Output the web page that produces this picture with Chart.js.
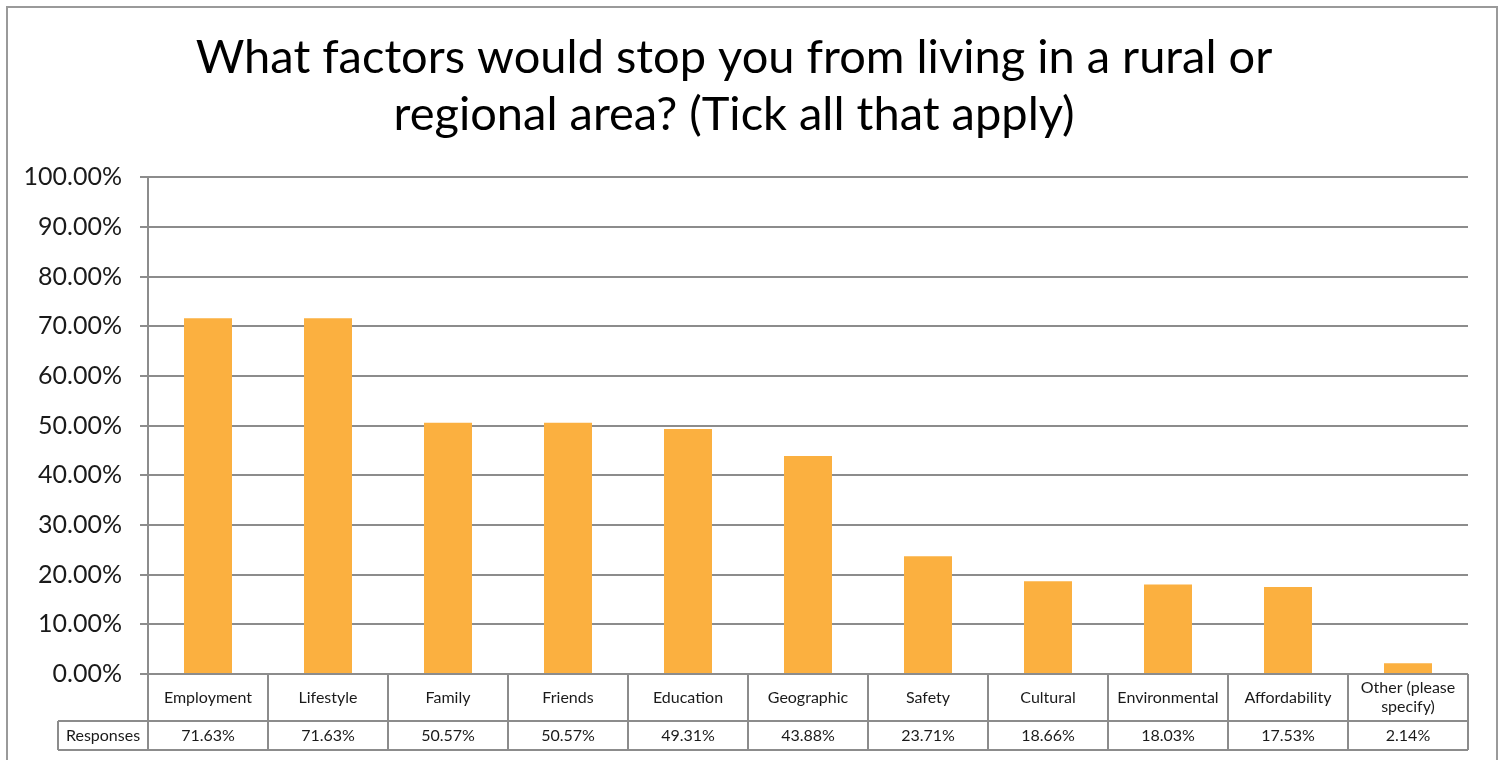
<!DOCTYPE html>
<html>
<head>
<meta charset="utf-8">
<script src="https://cdn.jsdelivr.net/npm/chart.js@4.4.1/dist/chart.umd.min.js"></script>
<style>
  html, body { margin: 0; padding: 0; background: #ffffff; }
  #wrap { width: 1505px; height: 760px; }
</style>
</head>
<body>
<div id="wrap"><canvas id="c" width="1505" height="760"></canvas></div>
<script>
const titleLines = ['What factors would stop you from living in a rural or', 'regional area? (Tick all that apply)'];
const categories = ['Employment', 'Lifestyle', 'Family', 'Friends', 'Education', 'Geographic', 'Safety', 'Cultural', 'Environmental', 'Affordability', ['Other (please', 'specify)']];
const values = [71.63, 71.63, 50.57, 50.57, 49.31, 43.88, 23.71, 18.66, 18.03, 17.53, 2.14];
const seriesName = 'Responses';
const yTicks = [0, 10, 20, 30, 40, 50, 60, 70, 80, 90, 100];

const FONT = 'Lato, "Open Sans", sans-serif';
const GRID = '#8c8c8c';

const framePlugin = {
  id: 'frame',
  beforeDraw(chart) {
    const ctx = chart.ctx;
    ctx.save();
    ctx.fillStyle = '#ffffff';
    ctx.fillRect(0, 0, chart.width, chart.height);
    ctx.strokeStyle = '#9a9a9a';
    ctx.lineWidth = 2;
    ctx.strokeRect(7, 7, 1490, 800);
    ctx.restore();
  }
};

const tablePlugin = {
  id: 'dataTable',
  afterDraw(chart) {
    const ctx = chart.ctx;
    const x = chart.scales.x;
    const area = chart.chartArea;
    const n = categories.length;
    const colW = (area.right - area.left) / n;
    const top = area.bottom;
    const mid = top + 47;
    const bot = mid + 29;
    const headLeft = 58;
    ctx.save();
    ctx.strokeStyle = GRID;
    ctx.lineWidth = 2;
    ctx.beginPath();
    ctx.moveTo(area.left, top); ctx.lineTo(area.right, top);
    ctx.moveTo(headLeft, mid); ctx.lineTo(area.right, mid);
    ctx.moveTo(headLeft, bot); ctx.lineTo(area.right, bot);
    ctx.moveTo(headLeft, mid); ctx.lineTo(headLeft, bot);
    for (let i = 0; i <= n; i++) {
      const px = area.left + i * colW;
      ctx.moveTo(px, top); ctx.lineTo(px, bot);
    }
    ctx.stroke();
    ctx.fillStyle = '#1a1a1a';
    ctx.font = '16px ' + FONT;
    ctx.textAlign = 'center';
    ctx.textBaseline = 'middle';
    for (let i = 0; i < n; i++) {
      const cx = x.getPixelForValue(i);
      const lab = categories[i];
      if (Array.isArray(lab)) {
        const lh = 19;
        const y0 = (top + mid) / 2 - (lab.length - 1) * lh / 2;
        lab.forEach((l, k) => ctx.fillText(l, cx, y0 + k * lh));
      } else {
        ctx.fillText(lab, cx, (top + mid) / 2);
      }
      ctx.fillText(values[i].toFixed(2) + '%', cx, (mid + bot) / 2);
    }
    ctx.fillText(seriesName, (headLeft + area.left) / 2, (mid + bot) / 2);
    ctx.restore();
  }
};

new Chart(document.getElementById('c'), {
  type: 'bar',
  data: {
    labels: categories,
    datasets: [{
      label: seriesName,
      data: values,
      backgroundColor: '#FBB040',
      borderWidth: 0,
      barPercentage: 0.8,
      categoryPercentage: 0.5
    }]
  },
  options: {
    responsive: false,
    animation: false,
    devicePixelRatio: 1,
    layout: { padding: { left: 0, right: 37, top: 0, bottom: 86 } },
    plugins: {
      legend: { display: false },
      tooltip: { enabled: false },
      title: {
        display: true,
        text: titleLines,
        color: '#000000',
        font: { family: FONT, size: 47, weight: 'normal', lineHeight: 1.215 },
        padding: { top: 29, bottom: 34 }
      }
    },
    scales: {
      x: {
        display: false,
        grid: { display: false }
      },
      y: {
        min: 0,
        max: 100,
        afterFit(scale) { scale.width = 148; },
        afterBuildTicks(scale) { scale.ticks = yTicks.map(v => ({ value: v })); },
        border: { display: true, color: GRID, width: 2 },
        grid: { color: GRID, lineWidth: 2, tickLength: 8, drawTicks: true },
        ticks: {
          color: '#1a1a1a',
          padding: 18,
          font: { family: FONT, size: 25 },
          callback: v => v.toFixed(2) + '%'
        }
      }
    }
  },
  plugins: [framePlugin, tablePlugin]
});
</script>
</body>
</html>
